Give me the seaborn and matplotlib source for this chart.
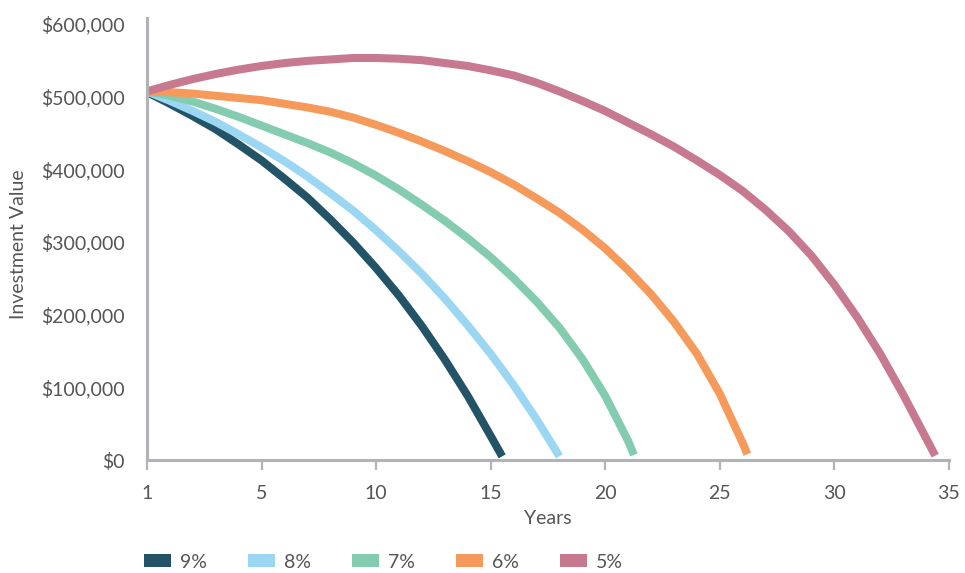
import matplotlib
matplotlib.use("Agg")
import matplotlib.pyplot as plt
from matplotlib.patches import Patch
from matplotlib.ticker import FuncFormatter
import pandas as pd
import seaborn as sns

# Withdrawal-rate scenarios: portfolio value by year
rates = ["9%", "8%", "7%", "6%", "5%"]
colors = ["#225367", "#9bd7f3", "#84ccb0", "#f69a5c", "#c77990"]

years_9 = [0, 1, 2, 3, 4, 5, 6, 7, 8, 9, 10, 11, 12, 13, 14, 15, 15.5]
values_9 = [506000, 490000, 473000, 455000, 434000, 412000, 387000, 361000, 331000,
            299000, 264000, 226000, 184000, 138000, 88000, 33000, 5000]

years_8 = [0, 1, 2, 3, 4, 5, 6, 7, 8, 9, 10, 11, 12, 13, 14, 15, 16, 17, 18]
values_8 = [507000, 494000, 480000, 465000, 448000, 430000, 411000, 390000, 367000,
            343000, 316000, 287000, 256000, 222000, 185000, 146000, 103000, 56000, 5000]

years_7 = [0, 1, 2, 3, 4, 5, 6, 7, 8, 9, 10, 11, 12, 13, 14, 15, 16, 17, 18, 19, 20,
           21, 21.25]
values_7 = [507000, 501000, 493000, 483000, 472000, 460000, 448000, 436000, 423000,
            408000, 391000, 372000, 351000, 329000, 305000, 279000, 250000, 218000,
            182000, 139000, 88000, 26000, 7000]

years_6 = [0, 1, 2, 3, 4, 5, 6, 7, 8, 9, 10, 11, 12, 13, 14, 15, 16, 17, 18, 19, 20,
           21, 22, 23, 24, 25, 26, 26.2]
values_6 = [507000, 506000, 504000, 501000, 498000, 495000, 490000, 485000, 479000,
            471000, 461000, 450000, 438000, 425000, 411000, 396000, 379000, 360000,
            340000, 317000, 291000, 261000, 228000, 190000, 146000, 91000, 23000, 8000]

years_5 = [0, 1, 2, 3, 4, 5, 6, 7, 8, 9, 10, 11, 12, 13, 14, 15, 16, 17, 18, 19, 20,
           21, 22, 23, 24, 25, 26, 27, 28, 29, 30, 31, 32, 33, 34, 34.4]
values_5 = [507000, 516000, 524000, 531000, 537000, 542000, 546000, 549000, 551000,
            553000, 553000, 552000, 550000, 546000, 542000, 536000, 529000, 519000,
            507000, 494000, 480000, 464000, 448000, 431000, 412000, 392000, 370000,
            344000, 315000, 281000, 241000, 196000, 146000, 90000, 30000, 6000]

x_ticks = [0, 5, 10, 15, 20, 25, 30, 35]
x_tick_labels = ["1", "5", "10", "15", "20", "25", "30", "35"]
y_ticks = [0, 100000, 200000, 300000, 400000, 500000, 600000]

series = {
    "9%": (years_9, values_9),
    "8%": (years_8, values_8),
    "7%": (years_7, values_7),
    "6%": (years_6, values_6),
    "5%": (years_5, values_5),
}
frames = [pd.DataFrame({"year": ys, "value": vs, "rate": r}) for r, (ys, vs) in series.items()]
df = pd.concat(frames, ignore_index=True)

sns.set_theme(style="white")
plt.rcParams["font.family"] = ["Lato", "DejaVu Sans"]

text_color = "#555555"
axis_color = "#b3b3b7"
fs = 14

W, H = 965, 573
fig = plt.figure(figsize=(W / 100, H / 100), dpi=100)
ax = fig.add_axes([147 / W, 113 / H, (949 - 147) / W, (555 - 113) / H])

sns.lineplot(data=df, x="year", y="value", hue="rate", hue_order=rates,
             palette=colors, estimator=None, sort=False, linewidth=5.8,
             legend=False, ax=ax)
for line in ax.lines:
    line.set_solid_capstyle("butt")
    line.set_solid_joinstyle("round")

ax.set_xlim(0, 35)
ax.set_ylim(0, 608000)
ax.set_xticks(x_ticks)
ax.set_xticklabels(x_tick_labels)
ax.set_yticks(y_ticks)
ax.yaxis.set_major_formatter(FuncFormatter(lambda v, _: f"${v:,.0f}"))

for side in ("top", "right"):
    ax.spines[side].set_visible(False)
for side in ("left", "bottom"):
    ax.spines[side].set_color(axis_color)
    ax.spines[side].set_linewidth(2.2)

ax.tick_params(axis="x", length=7, width=1.6, color=axis_color, labelcolor=text_color,
               labelsize=fs, pad=11, direction="out", bottom=True)
ax.tick_params(axis="y", length=0, labelcolor=text_color, labelsize=fs, pad=16)

ax.set_xlabel("Years", fontsize=fs, color=text_color)
ax.xaxis.set_label_coords(0.5, (460 - 518) / 442)
ax.xaxis.label.set_va("center")
ax.set_ylabel("Investment Value", fontsize=fs, color=text_color)
ax.yaxis.set_label_coords((19 - 147) / 802, (460 - 244) / 442)
ax.yaxis.label.set_va("center")

handles = [Patch(facecolor=c, edgecolor="none") for c in colors]
fig.legend(handles, rates, loc="center left", bbox_to_anchor=(144 / W, 1 - 562 / H),
           ncol=5, frameon=False, handlelength=1.39, handleheight=0.67,
           handletextpad=0.46, columnspacing=2.12, borderpad=0, borderaxespad=0,
           fontsize=fs, labelcolor=text_color)

fig.savefig("out.png", dpi=100)
